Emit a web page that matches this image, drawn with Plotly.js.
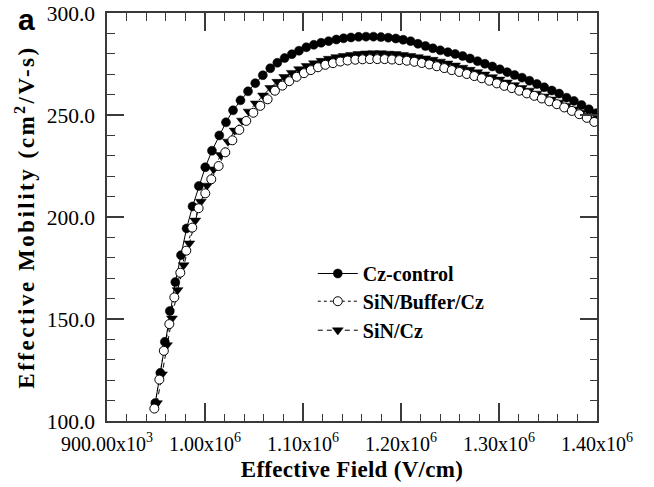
<!DOCTYPE html>
<html>
<head>
<meta charset="utf-8">
<script src="https://cdn.plot.ly/plotly-3.0.1.min.js"></script>
<style>
  html, body { margin: 0; padding: 0; background: #ffffff; }
  #chart { width: 654px; height: 487px; }
  /* the vertical axis title is set with wide tracking */
  #chart .ytitle { letter-spacing: 2.5px; }
  #chart .xtitle { letter-spacing: 0.3px; }
</style>
</head>
<body>
<div id="chart"></div>
<script>
// Effective mobility versus effective field for three wafer treatments.
const seriesNames = ['Cz-control', 'SiN/Buffer/Cz', 'SiN/Cz'];

// Cz-control (filled circles, solid line)
const czControlField = [
  949300, 954400, 959000, 964100, 969700, 975500, 981200, 987300, 993700, 1000300,
  1007100, 1014600, 1021400, 1028600, 1036200, 1043900, 1051300, 1059000, 1066600, 1073800,
  1081200, 1088600, 1095900, 1103400, 1111000, 1118500, 1126100, 1134000, 1141400, 1149000,
  1156700, 1164300, 1171900, 1179500, 1187000, 1194700, 1202200, 1209800, 1217300, 1225000,
  1232500, 1240100, 1247800, 1255300, 1262900, 1270400, 1278100, 1285600, 1293200, 1300800,
  1308400, 1315900, 1323500, 1331100, 1338700, 1346200, 1353900, 1361400, 1369000, 1376500,
  1384200, 1391700, 1399300
];
const czControlMobility = [
  108.8, 123.6, 138.8, 153.9, 168.1, 181.3, 194.4, 205.2, 215.2, 224.4,
  232.5, 240.0, 246.4, 252.3, 257.2, 261.6, 265.6, 269.5, 272.9, 275.6,
  277.9, 279.8, 281.5, 283.2, 284.4, 285.4, 286.2, 287.0, 287.6, 288.0,
  288.3, 288.4, 288.4, 288.2, 287.9, 287.5, 286.9, 286.2, 284.9, 283.8,
  282.7, 281.7, 280.8, 279.9, 278.9, 277.7, 276.4, 275.1, 273.8, 272.4,
  271.0, 269.6, 268.3, 266.8, 265.2, 263.6, 262.0, 260.5, 258.5, 256.9,
  254.9, 252.8, 250.9
];

// SiN/Buffer/Cz (open circles, dotted line)
const sinBufferField = [
  948300, 953400, 958000, 963600, 968700, 974800, 980900, 987000, 993500, 1000300,
  1006400, 1013900, 1020700, 1027900, 1035000, 1042100, 1049300, 1056400, 1063900, 1071400,
  1078900, 1086000, 1093500, 1101000, 1108000, 1115300, 1122800, 1130600, 1138100, 1145500,
  1153400, 1160800, 1168200, 1175800, 1183300, 1190800, 1198300, 1205900, 1213600, 1221200,
  1228900, 1236500, 1244200, 1251800, 1259500, 1267100, 1274800, 1282400, 1290100, 1297800,
  1305400, 1313100, 1320700, 1328400, 1336000, 1343700, 1351300, 1359000, 1366600, 1374300,
  1381900, 1389600, 1397200
];
const sinBufferMobility = [
  106.1, 120.3, 134.4, 147.5, 160.6, 172.7, 183.5, 194.8, 204.3, 211.6,
  218.5, 225.0, 231.7, 237.6, 242.7, 247.1, 251.1, 254.5, 257.7, 261.9,
  264.4, 266.6, 268.7, 270.5, 272.0, 273.4, 274.6, 275.4, 276.2, 276.7,
  277.1, 277.3, 277.4, 277.4, 277.4, 277.2, 276.9, 276.6, 276.1, 275.5,
  274.8, 273.9, 273.0, 272.0, 271.1, 270.1, 269.1, 268.0, 266.8, 265.5,
  264.3, 263.2, 261.9, 260.6, 259.4, 258.1, 256.7, 255.3, 253.7, 252.0,
  250.4, 248.6, 246.6
];

// SiN/Cz (filled down-triangles, dashed line)
const sinCzField = [
  951000, 956100, 961200, 966300, 972000, 978200, 984000, 990100, 995700, 1002000,
  1008800, 1016100, 1023500, 1030200, 1037800, 1044500, 1051800, 1059200, 1066600, 1073800,
  1080900, 1088500, 1096000, 1103700, 1111200, 1118800, 1126300, 1133900, 1141500, 1149100,
  1156600, 1164200, 1171700, 1179400, 1186900, 1194500, 1202000, 1209600, 1217200, 1224800,
  1232300, 1239900, 1247400, 1255100, 1262700, 1270200, 1277800, 1285300, 1293000, 1300500,
  1308100, 1315600, 1323200, 1330800, 1338400, 1345900, 1353500, 1361000, 1368700, 1376200,
  1383800, 1391300, 1398900
];
const sinCzMobility = [
  108.8, 122.9, 137.2, 150.3, 164.2, 176.4, 187.1, 198.3, 207.5, 215.4,
  223.4, 230.4, 237.0, 242.4, 247.3, 251.7, 255.7, 259.6, 263.3, 266.3,
  268.7, 270.7, 272.5, 274.1, 275.4, 276.6, 277.6, 278.4, 279.0, 279.5,
  279.9, 280.2, 280.3, 280.3, 280.1, 279.9, 279.5, 279.0, 278.4, 277.8,
  277.1, 276.2, 275.3, 274.3, 273.2, 272.2, 271.0, 269.9, 268.6, 267.4,
  266.0, 264.7, 263.3, 262.0, 260.5, 259.1, 257.6, 256.1, 254.5, 252.8,
  251.2, 249.4, 247.7
];

// Axis ticks and labels
const xTickValues = [900000, 1000000, 1100000, 1200000, 1300000, 1400000];
const xTickLabels = ['900.00x10<sup>3</sup>', '1.00x10<sup>6</sup>', '1.10x10<sup>6</sup>',
                     '1.20x10<sup>6</sup>', '1.30x10<sup>6</sup>', '1.40x10<sup>6</sup>'];
const yTickValues = [100, 150, 200, 250, 300];

const SERIF = '"Liberation Serif", "Times New Roman", Times, serif';
const INK = '#000000';
const AXIS = '#3a3a3a';

const traceCz = {
  x: czControlField, y: czControlMobility, name: seriesNames[0],
  type: 'scatter', mode: 'lines+markers', legend: 'legend', legendrank: 1,
  line: { color: INK, width: 1, dash: 'solid' },
  marker: { symbol: 'circle', size: 9, color: INK, line: { color: INK, width: 0.5 } }
};
const traceSiN = {
  x: sinCzField, y: sinCzMobility, name: seriesNames[2],
  type: 'scatter', mode: 'lines+markers', legend: 'legend3', legendrank: 3,
  line: { color: INK, width: 1, dash: '5px,4px' },
  marker: { symbol: 'triangle-down', size: 9.5, color: INK, line: { color: INK, width: 0.5 } }
};
const traceBuffer = {
  x: sinBufferField, y: sinBufferMobility, name: seriesNames[1],
  type: 'scatter', mode: 'lines+markers', legend: 'legend2', legendrank: 2,
  line: { color: INK, width: 1, dash: 'dot' },
  marker: { symbol: 'circle', size: 9, color: '#ffffff', line: { color: INK, width: 1 } }
};

const legendBase = {
  x: 0.42, xanchor: 'left', yanchor: 'middle',
  bgcolor: 'rgba(0,0,0,0)', borderwidth: 0,
  font: { family: SERIF, size: 20, color: INK, weight: 'bold' },
  itemwidth: 40
};

const layout = {
  width: 654, height: 487,
  margin: { l: 107, r: 57, t: 13, b: 66, pad: 0 },
  paper_bgcolor: '#ffffff', plot_bgcolor: '#ffffff',
  showlegend: true,
  legend: Object.assign({}, legendBase, { y: 0.3615 }),
  legend2: Object.assign({}, legendBase, { y: 0.2936 }),
  legend3: Object.assign({}, legendBase, { y: 0.2225 }),
  xaxis: {
    range: [900000, 1400000], autorange: false,
    tickmode: 'array', tickvals: xTickValues, ticktext: xTickLabels,
    ticks: 'inside', ticklen: 18, tickwidth: 1.3, tickcolor: AXIS,
    minor: { tick0: 900000, dtick: 20000, ticks: 'inside', ticklen: 7.5, tickwidth: 1.1, tickcolor: AXIS, showgrid: false },
    showline: true, linecolor: AXIS, linewidth: 1.6, mirror: 'ticks',
    showgrid: false, zeroline: false,
    ticklabelstandoff: 4,
    tickfont: { family: SERIF, size: 20, color: INK },
    title: { text: 'Effective Field (V/cm)', standoff: 7,
             font: { family: SERIF, size: 23, color: INK, weight: 'bold' } }
  },
  yaxis: {
    range: [100, 300], autorange: false,
    tickmode: 'array', tickvals: yTickValues, tickformat: '.1f',
    ticks: 'inside', ticklen: 17, tickwidth: 1.3, tickcolor: AXIS,
    minor: { tick0: 100, dtick: 10, ticks: 'inside', ticklen: 7.5, tickwidth: 1.1, tickcolor: AXIS, showgrid: false },
    showline: true, linecolor: AXIS, linewidth: 1.6, mirror: 'ticks',
    showgrid: false, zeroline: false,
    ticklabelstandoff: 6,
    tickfont: { family: SERIF, size: 21.5, color: INK },
    title: { text: 'Effective Mobility (cm<sup>2</sup>/V-s)', standoff: 5,
             font: { family: SERIF, size: 23, color: INK, weight: 'bold' } }
  },
  annotations: [{
    text: 'a', xref: 'paper', yref: 'paper', x: 0, y: 1,
    xanchor: 'left', yanchor: 'top', xshift: -91, yshift: 12, showarrow: false,
    font: { family: '"Liberation Sans", Arial, sans-serif', size: 30, color: INK, weight: 'bold' }
  }]
};

Plotly.newPlot('chart', [traceCz, traceSiN, traceBuffer], layout,
               { displayModeBar: false, staticPlot: true });
</script>
</body>
</html>
